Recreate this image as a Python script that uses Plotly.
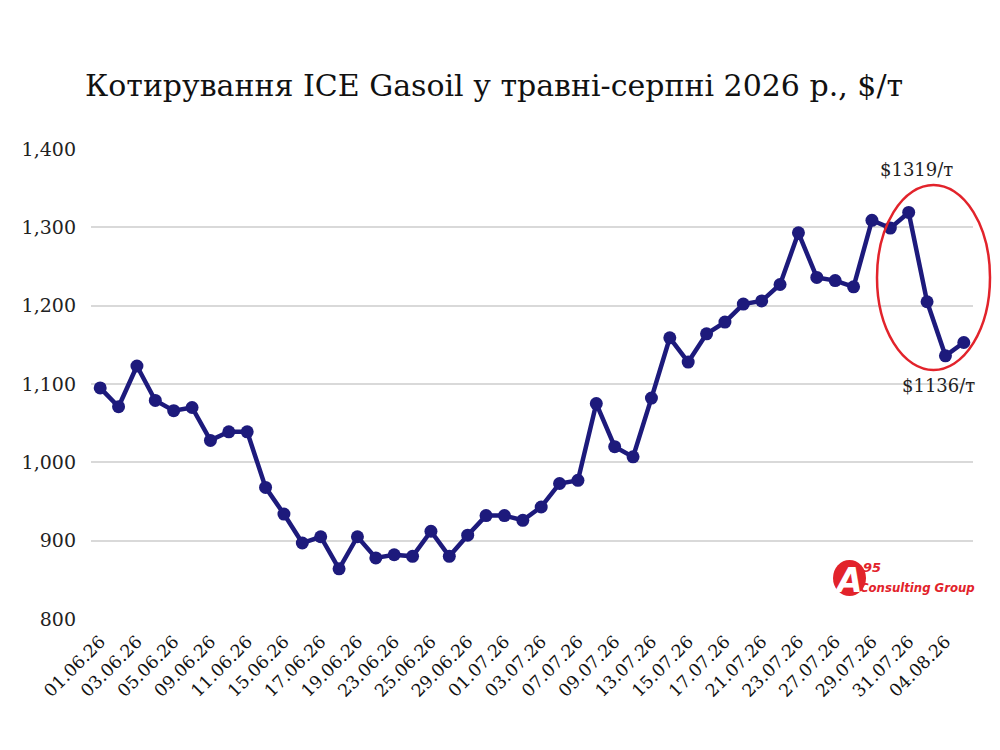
import plotly.graph_objects as go

dates = ["01.06.26","02.06.26","03.06.26","04.06.26","05.06.26","08.06.26","09.06.26","10.06.26",
         "11.06.26","12.06.26","15.06.26","16.06.26","17.06.26","18.06.26","19.06.26","22.06.26",
         "23.06.26","24.06.26","25.06.26","26.06.26","29.06.26","30.06.26","01.07.26","02.07.26",
         "03.07.26","06.07.26","07.07.26","08.07.26","09.07.26","10.07.26","13.07.26","14.07.26",
         "15.07.26","16.07.26","17.07.26","20.07.26","21.07.26","22.07.26","23.07.26","24.07.26",
         "27.07.26","28.07.26","29.07.26","30.07.26","31.07.26","03.08.26","04.08.26","05.08.26"]
prices = [1095, 1071, 1123, 1079, 1066, 1070, 1028, 1039,
          1039, 968, 934, 897, 905, 864, 905, 878,
          882, 880, 912, 880, 907, 932, 932, 926,
          943, 973, 977, 1075, 1020, 1007, 1082, 1159,
          1128, 1164, 1179, 1202, 1206, 1227, 1293, 1236,
          1232, 1224, 1309, 1299, 1319, 1205, 1136, 1153]
tick_labels = dates[::2]
y_ticks = [800, 900, 1000, 1100, 1200, 1300, 1400]
title_text = "Котирування ICE Gasoil у травні-серпні 2026 р., $/т"
peak_label = "$1319/т"
low_label = "$1136/т"

SERIF = "DejaVu Serif"
NAVY = "#1d1a7c"
RED = "#e2232b"

# page offset (browser body margin) = 8 px
W, H = 984, 734
L, T = 83, 141
PW, PH = 882, 470
R, B = W - L - PW, H - T - PH


def px(x):
    return (x - 8 - L) / PW


def py(y):
    return 1 - (y - 8 - T) / PH


fig = go.Figure()
fig.add_trace(go.Scatter(
    x=dates, y=prices, mode="lines+markers",
    line=dict(color=NAVY, width=4.5),
    marker=dict(color=NAVY, size=13),
    hoverinfo="x+y", showlegend=False,
))

peak_i = prices.index(max(prices[-6:]))
low_i = len(prices) - 2

fig.add_annotation(x=dates[peak_i], y=prices[peak_i], text=peak_label, showarrow=False,
                   xanchor="center", xshift=8, yshift=43,
                   font=dict(family=SERIF, size=18, color="#222"))
fig.add_annotation(x=dates[low_i], y=prices[low_i], text=low_label, showarrow=False,
                   xanchor="center", xshift=-7, yshift=-30,
                   font=dict(family=SERIF, size=18, color="#222"))

# red ellipse around the last days
fig.add_shape(type="circle", xref="paper", yref="paper",
              x0=px(877), x1=px(990), y0=py(370), y1=py(185),
              line=dict(color=RED, width=2.5))

# logo
fig.add_shape(type="circle", xref="paper", yref="paper",
              x0=px(833), x1=px(866), y0=py(596), y1=py(560),
              fillcolor=RED, line=dict(color=RED, width=0), layer="below")
fig.add_annotation(xref="paper", yref="paper", x=px(848), y=py(580), xanchor="center", yanchor="middle",
                   text="<b><i>A</i></b>", showarrow=False,
                   font=dict(family="DejaVu Sans", size=33, color="white"))
fig.add_annotation(xref="paper", yref="paper", x=px(872), y=py(567), xanchor="center", yanchor="middle",
                   text="<b><i>95</i></b>", showarrow=False,
                   font=dict(family="DejaVu Sans", size=13, color=RED))
fig.add_annotation(xref="paper", yref="paper", x=px(917), y=py(587), xanchor="center", yanchor="middle",
                   text="<b><i>Consulting Group</i></b>", showarrow=False,
                   font=dict(family="DejaVu Sans Condensed", size=13, color=RED))

fig.update_layout(
    width=W, height=H,
    margin=dict(l=L, r=R, t=T, b=B),
    paper_bgcolor="white", plot_bgcolor="white",
    title=dict(text=title_text, x=(85 - 8) / W, xanchor="left", y=1 - (85 - 8) / H, yanchor="middle",
               font=dict(family=SERIF, size=30, color="#111")),
    font=dict(family=SERIF, color="#222"),
)
fig.update_xaxes(
    type="category", range=[-0.5, len(dates) - 0.5],
    tickmode="array", tickvals=tick_labels, ticktext=tick_labels,
    tickangle=-45, tickfont=dict(family=SERIF, size=17.5, color="#111"),
    showgrid=False, showline=False, zeroline=False, ticks="", ticklabelstandoff=8,
)
fig.update_yaxes(
    range=[800, 1400], tickmode="array", tickvals=y_ticks, tickformat=",",
    tickfont=dict(family=SERIF, size=19, color="#222"),
    showgrid=True, gridcolor="#d9d9d9", gridwidth=1.5, zeroline=False, showline=False,
    ticklabelstandoff=14,
)

fig.write_html("out.html")
